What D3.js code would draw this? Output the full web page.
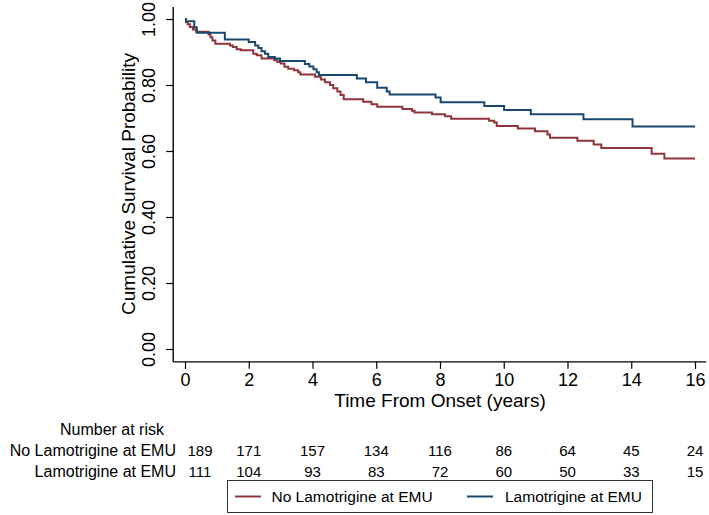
<!DOCTYPE html>
<html><head><meta charset="utf-8">
<script src="https://cdn.jsdelivr.net/npm/d3@7"></script>
<style>body{margin:0;background:#fff}svg{display:block}text{font-family:"Liberation Sans",Arial,sans-serif;fill:#000}</style>
</head><body>
<svg id="c" width="709" height="515"></svg>
<script>
const groups = ["No Lamotrigine at EMU", "Lamotrigine at EMU"];
const colors = ["#90353b", "#1a476f"];
// Kaplan-Meier steps: time (years) at which survival drops, and survival after drop
const noLamTimes = [0,0.03,0.08,0.15,0.25,0.35,0.74,0.80,0.86,0.95,1.41,1.50,1.62,1.75,2.14,2.25,2.40,2.80,2.90,3.00,3.12,3.24,3.42,3.55,3.62,4.08,4.26,4.39,4.55,4.65,4.78,4.88,4.98,5.59,5.85,6.03,6.82,7.12,7.20,7.75,8.16,8.35,9.54,9.70,9.78,10.44,10.98,11.37,11.45,12.31,12.82,13.06,14.64,15.04];
const noLamSurv  = [1.0,0.991,0.984,0.976,0.968,0.961,0.953,0.945,0.935,0.925,0.920,0.915,0.908,0.905,0.895,0.890,0.880,0.875,0.870,0.865,0.855,0.849,0.845,0.839,0.832,0.825,0.817,0.808,0.800,0.790,0.780,0.770,0.757,0.749,0.742,0.734,0.727,0.722,0.717,0.711,0.705,0.698,0.692,0.686,0.676,0.668,0.660,0.650,0.640,0.631,0.620,0.609,0.592,0.577];
const lamTimes = [0,0.03,0.29,0.37,1.25,2.00,2.20,2.30,2.40,2.51,2.61,2.82,2.98,3.76,3.90,4.03,4.13,4.20,5.39,5.68,6.03,6.33,6.42,7.86,8.02,9.39,10.01,10.85,12.50,14.04];
const lamSurv  = [1.0,0.993,0.975,0.958,0.938,0.930,0.920,0.912,0.902,0.895,0.885,0.880,0.873,0.864,0.856,0.848,0.839,0.830,0.820,0.808,0.792,0.780,0.771,0.762,0.748,0.736,0.724,0.711,0.696,0.674];
const endTime = 16;
const xTicks = [0,2,4,6,8,10,12,14,16];
const yTicks = [0,0.2,0.4,0.6,0.8,1.0];
const riskNoLam = [189,171,157,134,116,86,64,45,24];
const riskLam = [111,104,93,83,72,60,50,33,15];

const svg = d3.select("#c");
const x = d3.scaleLinear().domain([0,16]).range([185,695]);
const y = d3.scaleLinear().domain([0,1]).range([349,19]);
const xMin = -0.37, xMax = 16.35, yMin = -0.039, yMax = 1.036;

// axes
const gx = svg.append("g").attr("transform",`translate(0,${y(yMin)})`)
  .call(d3.axisBottom(x).tickValues(xTicks).tickFormat(d3.format("d")).tickSize(7).tickSizeOuter(0));
gx.select(".domain").remove();
gx.append("line").attr("x1",x(xMin)).attr("x2",x(xMax)).attr("stroke","#000").attr("stroke-width",1.4);
gx.selectAll(".tick line").attr("stroke","#000").attr("stroke-width",1.2);
gx.selectAll(".tick text").attr("font-size",18).attr("dy","0.71em").attr("y",11).style("font-family","Liberation Sans, Arial, sans-serif").attr("fill","#000");

const gy = svg.append("g").attr("transform",`translate(${x(xMin)},0)`)
  .call(d3.axisLeft(y).tickValues(yTicks).tickFormat(d3.format(".2f")).tickSize(7).tickSizeOuter(0));
gy.select(".domain").remove();
gy.append("line").attr("y1",y(yMin)).attr("y2",y(yMax)).attr("stroke","#000").attr("stroke-width",1.4);
gy.selectAll(".tick line").attr("stroke","#000").attr("stroke-width",1.2);
gy.selectAll(".tick text").remove();
gy.selectAll(".tick").append("text").text(d=>d3.format(".2f")(d))
  .attr("transform","translate(-18,0) rotate(-90)").attr("text-anchor","middle")
  .attr("font-size",18).attr("fill","#000").style("font-family","Liberation Sans, Arial, sans-serif");

// axis titles
svg.append("text").attr("transform",`translate(135,${y(0.5)}) rotate(-90)`).attr("text-anchor","middle")
  .attr("font-size",19).text("Cumulative Survival Probability");
svg.append("text").attr("x",x(8)).attr("y",407).attr("text-anchor","middle")
  .attr("font-size",19).text("Time From Onset (years)");

// curves
const series = [[noLamTimes,noLamSurv],[lamTimes,lamSurv]];
series.forEach(([ts,ss],i)=>{
  const pts = ts.map((t,k)=>[t,ss[k]]);
  pts.push([endTime, ss[ss.length-1]]);
  const line = d3.line().x(d=>x(d[0])).y(d=>y(d[1])).curve(d3.curveStepAfter);
  svg.append("path").attr("d",line(pts)).attr("fill","none").attr("stroke",colors[i]).attr("stroke-width",2);
});

// number at risk table
svg.append("text").attr("x",164).attr("y",435).attr("text-anchor","end").attr("font-size",16).text("Number at risk");
[riskNoLam,riskLam].forEach((row,i)=>{
  const yy = 456 + i*21;
  svg.append("text").attr("x",176).attr("y",yy).attr("text-anchor","end").attr("font-size",16).text(groups[i]);
  row.forEach((v,k)=>{
    const t = xTicks[k];
    const xx = k===0 ? x(t)+15 : x(t);
    svg.append("text").attr("x",xx).attr("y",yy).attr("text-anchor","middle").attr("font-size",15).text(v);
  });
});

// legend
const lg = svg.append("g");
lg.append("rect").attr("x",227.5).attr("y",480.5).attr("width",425).attr("height",32).attr("fill","#fff").attr("stroke","#333").attr("stroke-width",1);
const legX = [[235,271.5],[467,505]];
groups.forEach((g,i)=>{
  lg.append("line").attr("x1",legX[i][0]).attr("x2",legX[i][0]+26).attr("y1",496.5).attr("y2",496.5).attr("stroke",colors[i]).attr("stroke-width",2);
  lg.append("text").attr("x",legX[i][1]).attr("y",502).attr("font-size",15.5).text(g);
});
</script>
</body></html>
